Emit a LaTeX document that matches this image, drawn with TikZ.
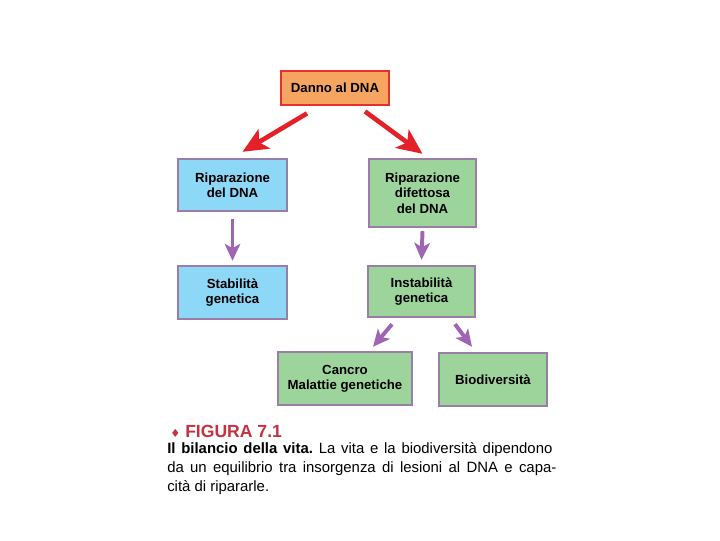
\documentclass[tikz,border=0pt]{standalone}
\usepackage{fontspec}
\setmainfont{Liberation Sans}
\newfontfamily\symbolfont{DejaVu Sans}
\usetikzlibrary{arrows.meta}
\frenchspacing

\definecolor{dannofill}{HTML}{F5A55F}
\definecolor{dannoline}{HTML}{E3302D}
\definecolor{repblue}{HTML}{8DD7F7}
\definecolor{repgreen}{HTML}{9DD49B}
\definecolor{boxline}{HTML}{9A7DA9}
\definecolor{arrowred}{HTML}{E42128}
\definecolor{arrowviolet}{HTML}{A064B4}
\definecolor{figred}{HTML}{C4323F}

\tikzset{
	stepnode/.style={draw=boxline, line width=1.7pt, align=center, inner sep=0pt,
		font=\fontsize{9.4}{10.9}\selectfont\bfseries},
	bluenode/.style={stepnode, fill=repblue},
	greennode/.style={stepnode, fill=repgreen},
	redarrow/.style={draw=arrowred, line width=3.3pt, -{Stealth[length=18pt, width=16pt, inset=4.5pt]}},
	violetarrow/.style={draw=arrowviolet, line width=2.8pt, -{Stealth[length=12pt, width=11pt, inset=3pt]}}
}

\begin{document}
\begin{tikzpicture}[x=0.025cm, y=-0.025cm]
		\useasboundingbox (0,0) rectangle (720,540);

		\node[stepnode, fill=dannofill, draw=dannoline, line width=2pt, minimum width=2.7cm, minimum height=0.85cm] (danno) at (335,88) {Danno al DNA};

		\node[bluenode, minimum width=2.725cm, minimum height=1.3cm] (ripara) at (232.5,185) {Riparazione\\del DNA};
		\node[greennode, minimum width=2.675cm, minimum height=1.7cm] (difett) at (422.5,193) {Riparazione\\difettosa\\del DNA};

		\node[bluenode, minimum width=2.725cm, minimum height=1.325cm] (stab) at (232.5,292.5) {Stabilità\\genetica};
		\node[greennode, minimum width=2.675cm, minimum height=1.275cm] (instab) at (421.5,291.5) {Instabilità\\genetica};

		\node[greennode, minimum width=3.35cm, minimum height=1.325cm] (cancro) at (345,378.5) {Cancro\\Malattie genetiche};
		\node[greennode, minimum width=2.7cm, minimum height=1.325cm] (biodiv) at (493,379.5) {Biodiversità};

		\draw[redarrow] ([shift={(-28,7)}]danno.south) -- ([shift={(10,-6)}]ripara.north);
		\draw[redarrow] ([shift={(30,5)}]danno.south) -- ([shift={(0,-4)}]difett.north);

		\draw[violetarrow] ([shift={(0,7)}]ripara.south) -- ([shift={(0,-4)}]stab.north);
		\draw[violetarrow] ([shift={(0,3)}]difett.south) -- ([shift={(0,-5)}]instab.north);
		\draw[violetarrow] ([shift={(-29.5,6)}]instab.south) -- ([shift={(28,-4)}]cancro.north);
		\draw[violetarrow] ([shift={(33.5,6)}]instab.south) -- ([shift={(-21,-5)}]biodiv.north);

		% caption
		\node[anchor=west, inner sep=0pt, text=figred, font=\fontsize{12.5}{14}\selectfont\bfseries] (figtitle) at (170,431) {{\symbolfont\fontsize{8}{10}\selectfont ♦} FIGURA 7.1};
		\node[anchor=north west, inner sep=0pt, align=left, font=\fontsize{10.6}{13.5}\selectfont] (figtext) at (167,442)
			{\makebox[9.625cm][s]{\textbf{Il bilancio della vita.} La vita e la biodiversità dipendono}\\
			 \makebox[9.725cm][s]{da un equilibrio tra insorgenza di lesioni al DNA e capa-}\\
			 cità di ripararle.};
	\end{tikzpicture}
\end{document}
